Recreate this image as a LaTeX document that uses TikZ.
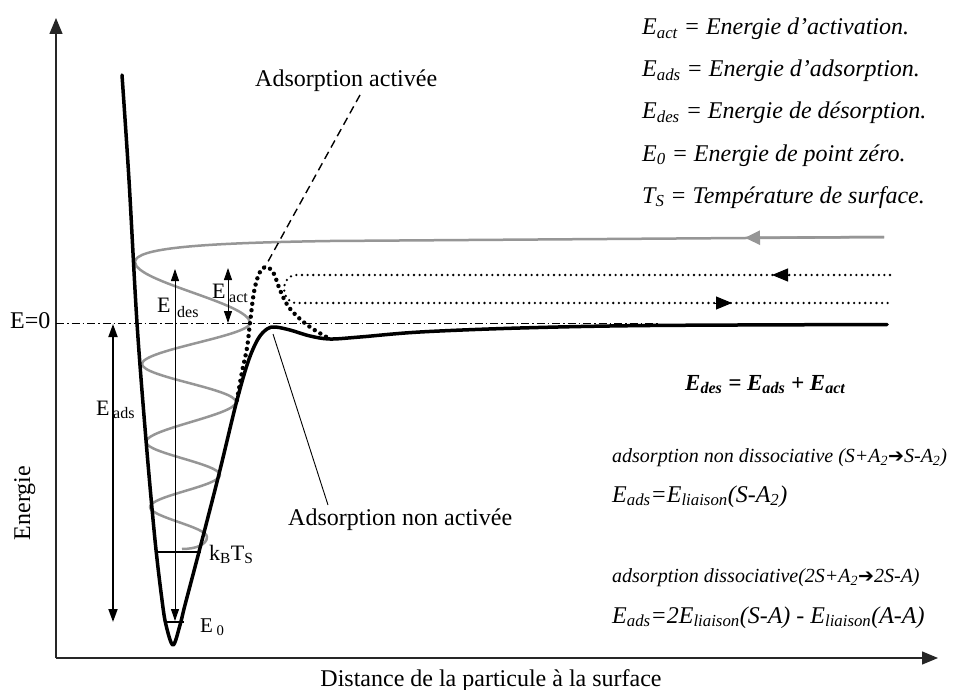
\documentclass[tikz,border=0pt]{standalone}
\usepackage{fontspec}
\setmainfont{Liberation Serif}[ItalicFont={Liberation Serif Italic}, BoldFont={Liberation Serif Bold}, BoldItalicFont={Liberation Serif Bold Italic}]
\newfontfamily\dejavu{DejaVu Sans}
\usetikzlibrary{arrows.meta}
\definecolor{curvegray}{RGB}{150,150,150}
\tikzset{
  axisline/.style={line width=1.3pt, draw=black!85, -{Triangle[length=16pt,width=13pt]}},
  pot/.style={line width=3.5pt, line join=round, line cap=round},
  grayline/.style={line width=2.5pt, draw=curvegray, line join=round},
  dotbig/.style={line width=4.4pt, dash pattern=on 0pt off 6.5pt, line cap=round},
  dotsmall/.style={line width=2.6pt, dash pattern=on 0pt off 5.6pt, line cap=round},
  dimthin/.style={line width=0.9pt, {Triangle[length=12pt,width=8pt]}-{Triangle[length=12pt,width=8pt]}},
  dimthick/.style={line width=1.8pt, {Triangle[length=13pt,width=9pt]}-{Triangle[length=13pt,width=9pt]}},
  lbl/.style={font=\fontsize{24}{28}\selectfont, inner sep=0pt, anchor=base west},
  lblit/.style={font=\fontsize{24}{28}\selectfont\itshape, inner sep=0pt, anchor=base west},
  lblsm/.style={font=\fontsize{20}{24}\selectfont\itshape, inner sep=0pt, anchor=base west},
  sublbl/.style={font=\fontsize{16}{18}\selectfont, inner sep=0pt, anchor=base west},
}
\newcommand{\heavyarrow}{{\upshape\dejavu\fontsize{19}{20}\selectfont ➔}}
\begin{document}
\begin{tikzpicture}[x=1pt,y=-1pt]
\fill[white] (0,0) rectangle (956,690);
\useasboundingbox (0,0) rectangle (956,690);

% coordinates
\coordinate (origin) at (56,658);
\coordinate (ytip) at (56,18);
\coordinate (xtip) at (938,658);
\coordinate (zeroL) at (56,323);
\coordinate (zeroR) at (660,323);

% axes
\draw[axisline] (origin) -- (ytip);
\draw[axisline] (origin) -- (xtip);

% E=0 dash-dot line
\draw[line width=0.9pt, dash pattern=on 8pt off 3pt on 1.5pt off 3pt] (zeroL) -- (zeroR);

% gray trajectory
\coordinate (gstart) at (884,237);
\coordinate (garrow) at (745,237.8);
\draw[grayline] (gstart) -- (330,241)
  .. controls (200,243) and (135,248) .. (135,262)
  .. controls (135,282) and (250,303) .. (250,323)
  .. controls (250,336) and (142,350) .. (142,364)
  .. controls (142,377) and (236,389) .. (236,402)
  .. controls (236,415) and (146,429) .. (146,442)
  .. controls (146,453) and (220,464) .. (220,475)
  .. controls (220,486) and (150,496) .. (150,507)
  .. controls (150,517) and (207,527) .. (207,537)
  .. controls (207,545) and (195,549) .. (182,549);
\draw[draw=curvegray, line width=2.5pt, -{Triangle[length=15pt,width=14pt]}] (gstart) -- (garrow);

% dotted horizontal loop
\coordinate (dtopR) at (890,275);
\coordinate (dbotR) at (890,303);
\coordinate (dtopArr) at (772,275);
\coordinate (dbotArr) at (732,303);
\draw[dotsmall] (dtopR) -- (296,275) .. controls (280,276) and (280,302) .. (296,303) -- (dbotR);
\draw[line width=1pt, -{Triangle[length=16pt,width=13pt]}] (790,275) -- (dtopArr);
\draw[line width=1pt, -{Triangle[length=16pt,width=13pt]}] (714,303) -- (dbotArr);

% dotted activated barrier
\coordinate (dotpeak) at (265,267);
\draw[dotbig] plot[smooth, tension=0.6] coordinates {(237,400) (242,372) (247,348) (250,323) (254,292) (259,274) (dotpeak) (273,272) (280,290) (288,306) (300,319) (313,329) (330,339)};

% potential curve
\coordinate (peak) at (275,327);
\draw[pot] plot[smooth, tension=0.55] coordinates {(122,75) (129,180) (137,323) (146,440) (155,540) (162,600) (166,625) (173,645) (180,625) (185,605) (200,548) (219,474) (236,404) (248,362) (258,339) (267,329) (peak) (290,330) (310,336) (330,339) (360,337) (420,332) (520,328) (650,325.5) (887,324.5)};

% kBTs and E0 levels
\coordinate (kL) at (157,552);
\coordinate (kR) at (201,552);
\coordinate (e0L) at (165,622);
\coordinate (e0R) at (184,622);
\draw[line width=2pt] (kL) -- (kR);
\draw[line width=2pt] (e0L) -- (e0R);

% dimension arrows
\coordinate (adsT) at (113,324);
\coordinate (adsB) at (113,622);
\coordinate (desT) at (175,269);
\coordinate (desB) at (175,621);
\coordinate (actT) at (228,268);
\coordinate (actB) at (228,323);
\draw[dimthick] (adsT) -- (adsB);
\draw[dimthin] (desT) -- (desB);
\draw[dimthin] (actT) -- (actB);

% labels on the plot
\node[lbl] (ezero) at (10,328) {E=0};
\node[font=\fontsize{24}{28}\selectfont, inner sep=0pt, rotate=90, anchor=base] (energie) at (30,503) {Energie};
\node[font=\fontsize{24}{28}\selectfont, inner sep=0pt, anchor=base] (distance) at (491,686) {Distance de la particule à la surface};

\node[lbl, font=\fontsize{22}{26}\selectfont] (edesE) at (157,312) {E};
\node[sublbl] (edesS) at (177,317) {des};
\node[lbl, font=\fontsize{22}{26}\selectfont] (eactE) at (212,298) {E};
\node[sublbl] (eactS) at (229,302) {act};
\node[lbl, font=\fontsize{22}{26}\selectfont] (eadsE) at (96,415) {E};
\node[sublbl] (eadsS) at (113,418) {ads};

\node[lbl, font=\fontsize{22}{26}\selectfont] (kbts) at (209,560) {k\textsubscript{B}T\textsubscript{S}};
\node[lbl, font=\fontsize{21}{26}\selectfont] (ezeroL) at (200,632) {E\,\textsubscript{0}};

\node[lbl] (actlbl) at (255,87) {Adsorption activée};
\coordinate (actline) at (360,95);
\draw[line width=1.4pt, dash pattern=on 8pt off 5pt] (actline) -- (dotpeak);

\node[lbl] (nonactlbl) at (288,525) {Adsorption non activée};
\coordinate (nonactA) at (273,334);
\coordinate (nonactB) at (328,505);
\draw[line width=0.9pt] (nonactA) -- (nonactB);

% legend
\node[lblit] (leg1) at (642,35) {E\textsubscript{act} = Energie d’activation.};
\node[lblit] (leg2) at (642,77) {E\textsubscript{ads} = Energie d’adsorption.};
\node[lblit] (leg3) at (642,119) {E\textsubscript{des} = Energie de désorption.};
\node[lblit] (leg4) at (642,161) {E\textsubscript{0} = Energie de point zéro.};
\node[lblit] (leg5) at (642,203) {T\textsubscript{S} = Température de surface.};

\node[inner sep=0pt, anchor=base west, font=\fontsize{23}{26}\selectfont\bfseries\itshape] (edes) at (685,390) {E\textsubscript{des} = E\textsubscript{ads} + E\textsubscript{act}};

\node[lblsm] (nondiss) at (612,462) {adsorption non dissociative (S+A\textsubscript{2}\heavyarrow S-A\textsubscript{2})};
\node[lblit] (eq1) at (612,502) {E\textsubscript{ads}=E\textsubscript{liaison}(S-A\textsubscript{2})};
\node[lblsm] (diss) at (612,582) {adsorption dissociative(2S+A\textsubscript{2}\heavyarrow 2S-A)};
\node[lblit] (eq2) at (612,623) {E\textsubscript{ads}=2E\textsubscript{liaison}(S-A) - E\textsubscript{liaison}(A-A)};

\end{tikzpicture}
\end{document}
